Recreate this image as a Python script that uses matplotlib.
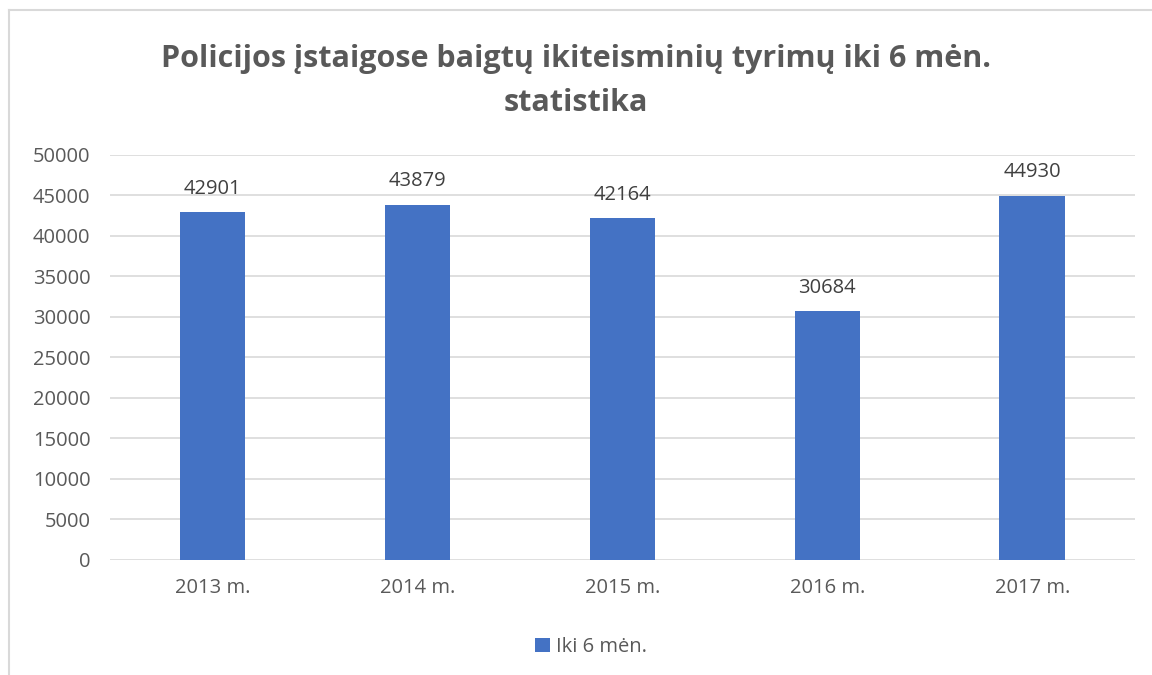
import matplotlib
matplotlib.use('Agg')
import matplotlib.pyplot as plt
from matplotlib.lines import Line2D

# ── Data ────────────────────────────────────────────────────────────
years = ['2013 m.', '2014 m.', '2015 m.', '2016 m.', '2017 m.']
values = [42901, 43879, 42164, 30684, 44930]
series_name = 'Iki 6 mėn.'
yticks = [0, 5000, 10000, 15000, 20000, 25000, 30000, 35000, 40000, 45000, 50000]

plt.rcParams['font.family'] = ['Open Sans', 'DejaVu Sans']

fig = plt.figure(figsize=(11.52, 6.75), dpi=100)
ax = fig.add_axes([0.0955, 0.1704, 0.8895, 0.6000])

x = range(len(years))
ax.bar(x, values, width=0.32, color='#4472c4', label=series_name, zorder=3)

for xi, v in zip(x, values):
    ax.text(xi, v + 1700, str(v), ha='center', va='bottom', fontsize=14.5, color='#404040')

ax.set_xlim(-0.5, len(years) - 0.5)
ax.set_ylim(0, 50000)
ax.set_yticks(yticks)
ax.set_yticklabels([str(t) for t in yticks])
ax.set_xticks(list(x))
ax.set_xticklabels(years)
ax.tick_params(axis='both', length=0, labelsize=14.5, labelcolor='#595959')
ax.tick_params(axis='y', pad=14)
ax.tick_params(axis='x', pad=13)
ax.grid(axis='y', color='#d9d9d9', linewidth=1.2, zorder=0)
for s in ax.spines.values():
    s.set_visible(False)

fig.text(0.5, 0.913, 'Policijos įstaigose baigtų ikiteisminių tyrimų iki 6 mėn.',
         ha='center', va='center', fontsize=22, fontweight='bold', color='#595959')
fig.text(0.5, 0.848, 'statistika', ha='center', va='center', fontsize=22,
         fontweight='bold', color='#595959')

fig.legend(loc='center', bbox_to_anchor=(0.513, 0.041), frameon=False, fontsize=14.5,
           labelcolor='#595959', handlelength=0.7, handleheight=0.7, handletextpad=0.3)

# chart border (light gray), cut off at the right and bottom
bx, by = 9 / 1152, 1 - 10 / 675
fig.add_artist(Line2D([bx, bx], [0, by], color='#d9d9d9', lw=1.5, transform=fig.transFigure))
fig.add_artist(Line2D([bx, 1], [by, by], color='#d9d9d9', lw=1.5, transform=fig.transFigure))

plt.savefig('out.png', dpi=100)
